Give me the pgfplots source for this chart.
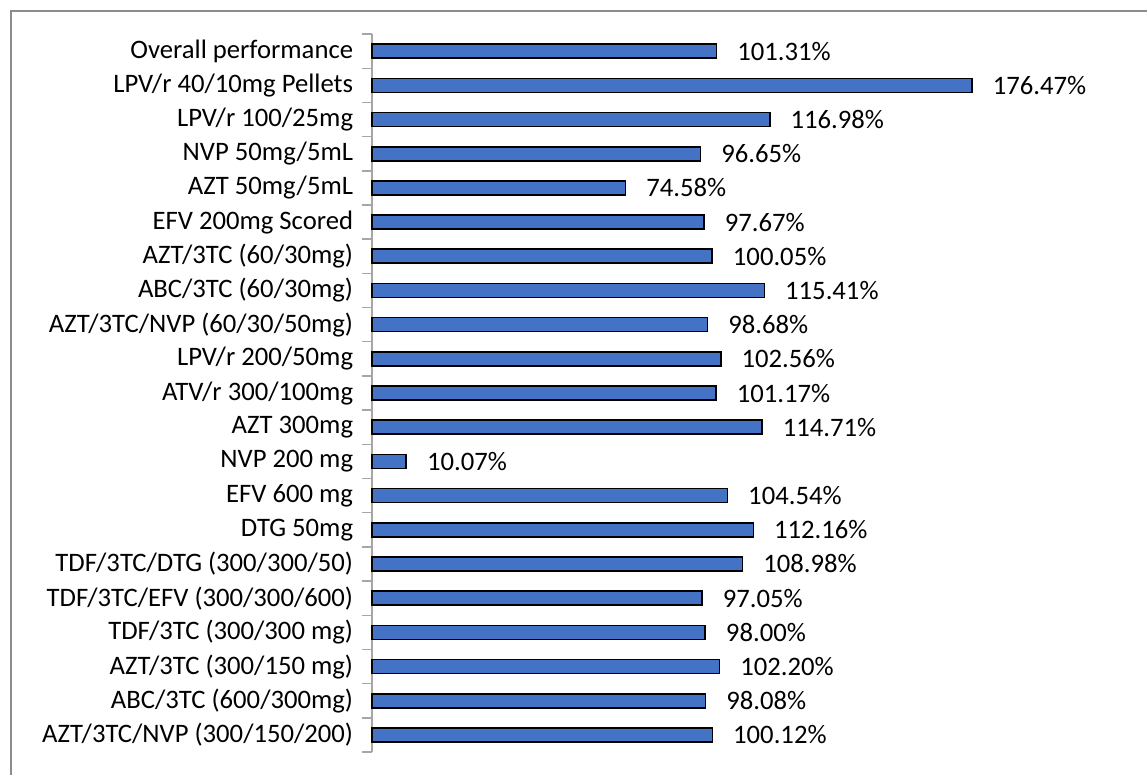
\documentclass[border=0pt]{standalone}
\usepackage{pgfplots}
\pgfplotsset{compat=1.18}
\usepackage{fontspec}
\setmainfont{Carlito}
\definecolor{barblue}{HTML}{4472C4}
\definecolor{framegray}{HTML}{8C8C8C}
\definecolor{axisgray}{HTML}{A6A6A6}
\begin{document}
\begin{tikzpicture}
\path[use as bounding box] (-279pt,-17.25pt) rectangle (581.25pt,564pt);
\draw[framegray, line width=1.5pt] (-270.75pt,-17.25pt) -- (-270.75pt,555.75pt) -- (581.25pt,555.75pt);
\begin{axis}[
  at={(0,0)}, anchor=south west,
  x=2.55pt, y=25.64pt,
  xmin=0, xmax=200,
  ymin=-0.5, ymax=20.5,
  y dir=reverse,
  xbar, bar width=10.5pt,
  axis x line=none,
  axis y line*=left,
  y axis line style={-, axisgray, line width=1.1pt},
  ytick={0,...,20},
  major tick length=0pt,
  minor ytick={-0.5,0.5,...,20.5},
  minor tick length=7.5pt,
  tick align=outside,
  minor tick style={axisgray, line width=1.1pt},
  yticklabels={Overall performance, LPV/r 40/10mg Pellets, LPV/r 100/25mg, NVP 50mg/5mL, AZT 50mg/5mL, EFV 200mg Scored, AZT/3TC (60/30mg), ABC/3TC (60/30mg), AZT/3TC/NVP (60/30/50mg), LPV/r 200/50mg, ATV/r 300/100mg, AZT 300mg, NVP 200 mg, EFV 600 mg, DTG 50mg, TDF/3TC/DTG (300/300/50), TDF/3TC/EFV (300/300/600), TDF/3TC (300/300 mg), AZT/3TC (300/150 mg), ABC/3TC (600/300mg), AZT/3TC/NVP (300/150/200)},
  yticklabel style={font=\fontsize{20}{24}\selectfont, anchor=east, inner sep=0pt, xshift=-14pt, text=black},
  /pgf/number format/assume math mode=true,
  point meta=x,
  nodes near coords={\pgfmathprintnumber[fixed,fixed zerofill,precision=2]{\pgfplotspointmeta}\%},
  nodes near coords style={font=\fontsize{20}{24}\selectfont, anchor=west, inner sep=0pt, xshift=15pt, text=black},
  clip=false,
]
\addplot[fill=barblue, draw=black, line width=1.2pt] coordinates {
(101.31,0) (176.47,1) (116.98,2) (96.65,3) (74.58,4) (97.67,5) (100.05,6)
(115.41,7) (98.68,8) (102.56,9) (101.17,10) (114.71,11) (10.07,12) (104.54,13)
(112.16,14) (108.98,15) (97.05,16) (98.00,17) (102.20,18) (98.08,19) (100.12,20)
};
\end{axis}
\end{tikzpicture}
\end{document}
